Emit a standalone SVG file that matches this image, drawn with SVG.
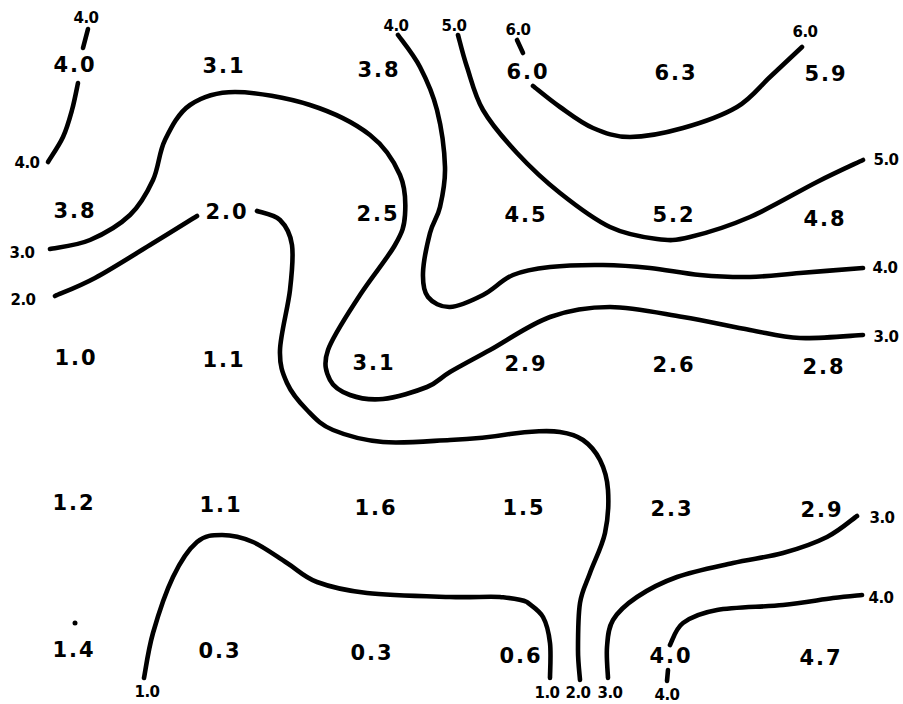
<svg xmlns="http://www.w3.org/2000/svg" width="903" height="704" viewBox="0 0 903 704">
<style>
.c{fill:none;stroke:#000;stroke-width:4.6;stroke-linecap:round;stroke-linejoin:round}
.v{font-family:"DejaVu Sans","Liberation Sans",sans-serif;font-weight:bold;font-size:21px;letter-spacing:2px;text-anchor:middle;fill:#000}
.l{font-family:"DejaVu Sans","Liberation Sans",sans-serif;font-weight:bold;font-size:15px;letter-spacing:-0.5px;text-anchor:middle;fill:#000}
</style>
<rect width="903" height="704" fill="#fff"/>
<g id="contours">
<path class="c" d="M88,29 L83,48"/>
<path class="c" d="M78,83 C77,87.5 74.5,101 72,110 C69.5,119 67,128.3 63,137 C59,145.7 50.5,157.8 48,162"/>
<path class="c" d="M50,249 C56.7,247.5 76.7,245.7 90,240 C103.3,234.3 119.5,225 130,215 C140.5,205 147.2,192.5 153,180 C158.8,167.5 158.8,152.5 165,140 C171.2,127.5 178.3,113 190,105 C201.7,97 215,92 235,92 C255,92 287.5,97.8 310,105 C332.5,112.2 355,123.3 370,135 C385,146.7 394.2,161.7 400,175 C405.8,188.3 405.8,203.3 405,215 C404.2,226.7 402.5,231.7 395,245 C387.5,258.3 371.2,277.5 360,295 C348.8,312.5 333,335.8 328,350 C323,364.2 326.3,372.5 330,380 C333.7,387.5 341.2,391.8 350,395 C358.8,398.2 370.2,400.3 383,399 C395.8,397.7 415.8,391.5 427,387 C438.2,382.5 439.5,378.2 450,372 C460.5,365.8 473.3,359.2 490,350 C506.7,340.8 530,324.2 550,317 C570,309.8 587.8,307 610,307 C632.2,307 659.7,313.2 683,317 C706.3,320.8 730.5,326.5 750,330 C769.5,333.5 781.2,337.2 800,338 C818.8,338.8 852.5,335.5 863,335"/>
<path class="c" d="M55,296 C61.7,293 79.2,286.5 95,278 C110.8,269.5 133,255.3 150,245 C167,234.7 189.2,220.8 197,216"/>
<path class="c" d="M257,211 C260.8,212.5 274.2,214.3 280,220 C285.8,225.7 290.3,233.3 292,245 C293.7,256.7 292,272.5 290,290 C288,307.5 280.5,334.5 280,350 C279.5,365.5 282.5,373 287,383 C291.5,393 299.3,402.2 307,410 C314.7,417.8 320.3,424.7 333,430 C345.7,435.3 363.5,440.3 383,442 C402.5,443.7 432.2,440.8 450,440 C467.8,439.2 490,437.5 510,434 C530,431 550.7,430.5 560,432 C569.3,433.5 576.3,435.3 583,440 C589.7,444.7 595.8,451.7 600,460 C604.2,468.3 607.2,477.8 608,490 C608.8,502.2 608,519.2 605,533 C602,546.8 594.2,561.3 590,573 C585.8,584.7 582,590.2 580,603 C578,615.8 578,637.2 578,650 C578,662.8 579.7,675 580,680"/>
<path class="c" d="M144,678 C145.5,670.5 148.2,649.8 153,633 C157.8,616.2 165.7,592.2 173,577 C180.3,561.8 188.8,549 197,542 C205.2,535 212.7,535 222,535 C231.3,535 242.2,537.3 253,542 C263.8,546.7 276.3,556.3 287,563 C297.7,569.7 303.7,577 317,582 C330.3,587 344.8,590.5 367,593 C389.2,595.5 427.8,596.3 450,597 C472.2,597.7 487.2,596.2 500,597 C507.2,597.8 519.8,598.7 527,602 C530.8,605.3 539.2,610.2 543,617 C546.8,623.8 548.8,632.8 550,643 C551.2,653.2 550,672.2 550,678"/>
<path class="c" d="M608,678 C607.8,672.8 606.2,656.7 607,647 C607.8,637.3 608,628.3 613,620 C618,611.7 626.3,604.2 637,597 C647.7,589.8 661,582.7 677,577 C693,571.3 715.3,567 733,563 C750.7,559 767.3,557.3 783,553 C798.7,548.7 814.7,543.2 827,537 C839.3,530.8 852,519.5 857,516"/>
<path class="c" d="M670,645 C672.2,641.3 675.2,628.8 683,623 C690.8,617.2 700.3,613 717,610 C733.7,607 763.7,607 783,605 C802.3,603 819.8,599.7 833,598 C846.2,596.3 857.2,595.5 862,595"/>
<path class="c" d="M668,670 L667,681"/>
<path class="c" d="M398,35 C401.7,40.3 413.5,54.5 420,67 C426.5,79.5 432.8,93.3 437,110 C441.2,126.7 444.5,150.8 445,167 C445.5,183.2 442.5,196 440,207 C437.5,218 432.8,222 430,233 C427.2,244 423.3,262.3 423,273 C422.7,283.7 423.5,291.3 428,297 C432.5,302.7 440.8,307.3 450,307 C459.2,306.7 472.5,300.3 483,295 C493.5,289.7 501.8,279.7 513,275 C524.2,270.3 535,268.7 550,267 C565,265.3 586.3,264.8 603,265 C619.7,265.2 633.8,266.3 650,268 C666.2,269.7 683.3,273.5 700,275 C716.7,276.5 733.3,277.3 750,277 C766.7,276.7 781.2,274.5 800,273 C818.8,271.5 852.5,268.8 863,268"/>
<path class="c" d="M458,35 C459.5,40.3 462.8,54.5 467,67 C471.2,79.5 474.7,95.7 483,110 C491.3,124.3 504.2,139.2 517,153 C529.8,166.8 544.5,180.7 560,193 C575.5,205.3 593.8,219.3 610,227 C626.2,234.7 643.7,237.3 657,239 C670.3,240.7 674.5,240.7 690,237 C705.5,233.3 728.8,226.2 750,217 C771.2,207.8 798.2,191.5 817,182 C835.8,172.5 855.3,163.7 863,160"/>
<path class="c" d="M517,40 L523,53"/>
<path class="c" d="M533,86 C537.5,89.5 550,100 560,107 C570,114 581.3,123 593,128 C604.7,133 615,137 630,137 C645,137 665.2,133 683,128 C700.8,123 722.5,115.5 737,107 C751.5,98.5 759.2,87 770,77 C780.8,67 796.7,52 802,47"/>
<circle cx="75" cy="623" r="2.5" fill="#000"/>
</g>
<g id="values">
<text class="v" x="75" y="72">4.0</text>
<text class="v" x="224" y="73">3.1</text>
<text class="v" x="379" y="77">3.8</text>
<text class="v" x="528" y="79">6.0</text>
<text class="v" x="676" y="80">6.3</text>
<text class="v" x="826" y="81">5.9</text>
<text class="v" x="75" y="218">3.8</text>
<text class="v" x="227" y="219">2.0</text>
<text class="v" x="378" y="221">2.5</text>
<text class="v" x="526" y="222">4.5</text>
<text class="v" x="674" y="222">5.2</text>
<text class="v" x="825" y="226">4.8</text>
<text class="v" x="76" y="365">1.0</text>
<text class="v" x="224" y="367">1.1</text>
<text class="v" x="374" y="370">3.1</text>
<text class="v" x="526" y="371">2.9</text>
<text class="v" x="674" y="372">2.6</text>
<text class="v" x="824" y="374">2.8</text>
<text class="v" x="74" y="510">1.2</text>
<text class="v" x="221" y="512">1.1</text>
<text class="v" x="376" y="515">1.6</text>
<text class="v" x="524" y="515">1.5</text>
<text class="v" x="672" y="516">2.3</text>
<text class="v" x="822" y="517">2.9</text>
<text class="v" x="74" y="657">1.4</text>
<text class="v" x="220" y="658">0.3</text>
<text class="v" x="372" y="660">0.3</text>
<text class="v" x="521" y="663">0.6</text>
<text class="v" x="671" y="663">4.0</text>
<text class="v" x="821" y="665">4.7</text>
</g>
<g id="labels">
<text class="l" x="86" y="23">4.0</text>
<text class="l" x="27" y="168">4.0</text>
<text class="l" x="22" y="258">3.0</text>
<text class="l" x="23" y="305">2.0</text>
<text class="l" x="396" y="31">4.0</text>
<text class="l" x="454" y="31">5.0</text>
<text class="l" x="518" y="35">6.0</text>
<text class="l" x="805" y="37">6.0</text>
<text class="l" x="886" y="165">5.0</text>
<text class="l" x="885" y="273">4.0</text>
<text class="l" x="886" y="342">3.0</text>
<text class="l" x="882" y="523">3.0</text>
<text class="l" x="881" y="603">4.0</text>
<text class="l" x="147" y="697">1.0</text>
<text class="l" x="547" y="698">1.0</text>
<text class="l" x="578" y="698">2.0</text>
<text class="l" x="610" y="698">3.0</text>
<text class="l" x="667" y="700">4.0</text>
</g>
</svg>
